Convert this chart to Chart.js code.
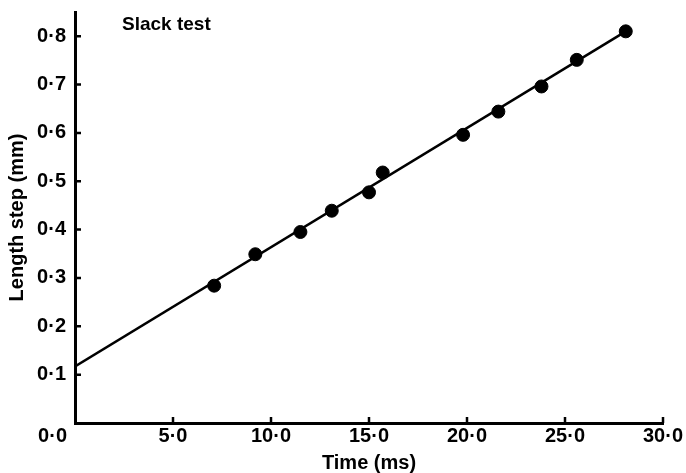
<!DOCTYPE html>
<html>
<head>
<meta charset="utf-8">
<script src="https://cdn.jsdelivr.net/npm/chart.js@4"></script>
<style>
  html, body { margin: 0; padding: 0; background: #fff; }
  #wrap { width: 686px; height: 473px; }
</style>
</head>
<body>
<div id="wrap"><canvas id="slackChart" width="686" height="473"></canvas></div>
<script>
// measured points (time in ms, length step in mm)
const timeMs = [7.1, 9.2, 11.5, 13.1, 15.0, 15.7, 19.8, 21.6, 23.8, 25.6, 28.1];
const stepMm = [0.284, 0.349, 0.395, 0.439, 0.477, 0.518, 0.596, 0.644, 0.696, 0.751, 0.810];
// fitted regression line, two ends
const fitX = [0, 28.1];
const fitY = [0.117, 0.810];
const xTicks = [0, 5, 10, 15, 20, 25, 30];
const yTicks = [0.1, 0.2, 0.3, 0.4, 0.5, 0.6, 0.7, 0.8];

const FONT = "'Liberation Sans', Arial, sans-serif";
const fmt = v => v.toFixed(1).replace('.', '·');

// ticks pointing into the plot, plus the corner label and panel label
const extras = {
    id: 'extras',
    afterDraw(chart) {
        const ctx = chart.ctx;
        const xs = chart.scales.x, ys = chart.scales.y;
        ctx.save();
        ctx.strokeStyle = '#000';
        ctx.lineWidth = 2.5;
        ctx.beginPath();
        xTicks.forEach(v => {
            if (v === 0) return;
            const px = xs.getPixelForValue(v);
            ctx.moveTo(px, xs.top);
            ctx.lineTo(px, xs.top - 6);
        });
        yTicks.forEach(v => {
            const py = ys.getPixelForValue(v);
            ctx.moveTo(ys.right, py);
            ctx.lineTo(ys.right + 6, py);
        });
        ctx.stroke();

        ctx.fillStyle = '#000';
        ctx.font = 'bold 20px ' + FONT;
        ctx.textAlign = 'right';
        ctx.textBaseline = 'middle';
        ctx.fillText(fmt(0), ys.right - 8, xs.top + 13);

        ctx.font = 'bold 19px ' + FONT;
        ctx.textAlign = 'left';
        ctx.fillText('Slack test', 122, 25);
        ctx.restore();
    }
};

new Chart(document.getElementById('slackChart'), {
    type: 'scatter',
    data: {
        datasets: [{
            type: 'line',
            data: fitX.map((x, i) => ({ x: x, y: fitY[i] })),
            borderColor: '#000',
            borderWidth: 2.5,
            pointRadius: 0,
            fill: false
        }, {
            data: timeMs.map((x, i) => ({ x: x, y: stepMm[i] })),
            backgroundColor: '#000',
            borderColor: '#000',
            pointRadius: 6.5
        }]
    },
    options: {
        responsive: false,
        animation: false,
        events: [],
        layout: { padding: { top: 12, right: 23, left: 0, bottom: 0 } },
        plugins: { legend: { display: false }, tooltip: { enabled: false } },
        scales: {
            x: {
                type: 'linear',
                min: 0, max: 30,
                afterBuildTicks: s => { s.ticks = xTicks.map(v => ({ value: v })); },
                afterFit: s => { s.height = 50; s.paddingLeft = 0; s.paddingRight = 0; },
                border: { color: '#000', width: 3 },
                grid: { drawOnChartArea: false, drawTicks: false },
                ticks: {
                    color: '#000',
                    padding: 1,
                    maxRotation: 0,
                    font: { family: FONT, size: 20, weight: 'bold' },
                    callback: v => v === 0 ? '' : fmt(v)
                },
                title: {
                    display: true,
                    text: 'Time (ms)',
                    color: '#000',
                    padding: { top: 0, bottom: -2 },
                    font: { family: FONT, size: 20, weight: 'bold' }
                }
            },
            y: {
                min: 0, max: 0.85,
                afterBuildTicks: s => { s.ticks = yTicks.map(v => ({ value: v })); },
                afterFit: s => { s.width = 75; s.paddingTop = 0; s.paddingBottom = 0; },
                border: { color: '#000', width: 3 },
                grid: { drawOnChartArea: false, drawTicks: false },
                ticks: {
                    color: '#000',
                    padding: 9,
                    font: { family: FONT, size: 20, weight: 'bold' },
                    callback: v => fmt(v)
                },
                title: {
                    display: true,
                    text: 'Length step (mm)',
                    color: '#000',
                    padding: { top: 5, bottom: 0 },
                    font: { family: FONT, size: 20, weight: 'bold' }
                }
            }
        }
    },
    plugins: [extras]
});
</script>
</body>
</html>
